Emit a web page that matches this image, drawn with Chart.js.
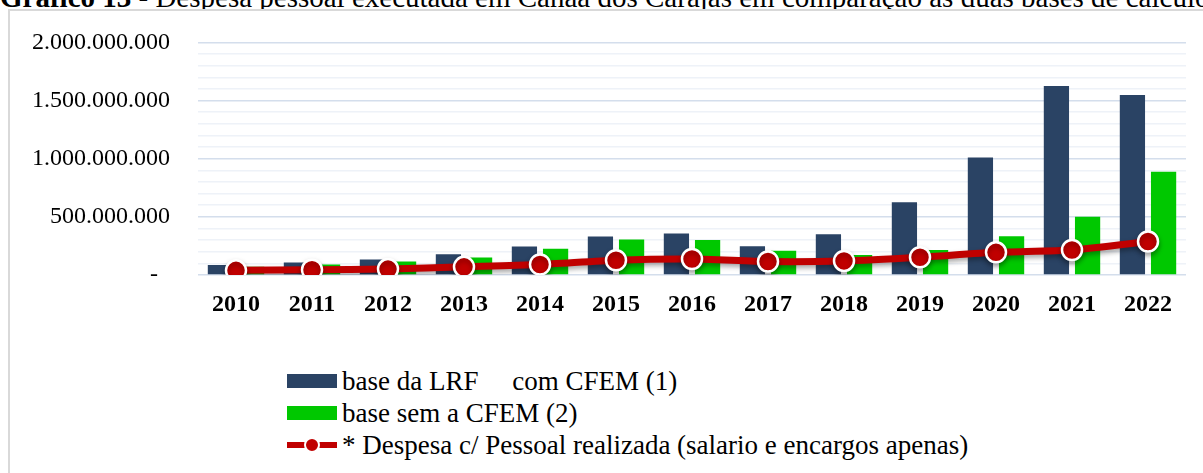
<!DOCTYPE html>
<html>
<head>
<meta charset="utf-8">
<script src="https://cdn.jsdelivr.net/npm/chart.js@4.4.1/dist/chart.umd.min.js"></script>
<style>
  html, body { margin: 0; padding: 0; background: #fff; }
  body { width: 1203px; height: 473px; overflow: hidden; position: relative; font-family: 'Liberation Serif', 'Times New Roman', serif; }
  .titulo { position: absolute; left: 0; top: -18px; font-size: 29px; line-height: 30px; white-space: nowrap; color: #000; }
  .caixa { position: absolute; left: 8px; top: 9px; width: 1300px; height: 600px; border: 2px solid #d9d9d9; background: #fff; }
  .grafico { position: absolute; left: 0; top: 0; width: 1203px; height: 330px; }
  #legenda { position: absolute; left: 287px; top: 365px; font-size: 27px; color: #000; }
  #legenda .item { height: 32px; display: flex; align-items: center; white-space: pre; }
  #legenda .cx { width: 50px; height: 14px; margin-right: 5px; }
  #legenda .ln { width: 50px; height: 6px; margin-right: 5px; position: relative; }
  #legenda .ln span { position: absolute; left: 17px; top: -5px; width: 12px; height: 12px; border-radius: 50%; border: 2px solid #fff; box-sizing: content-box; }
</style>
</head>
<body>
<div class="titulo"><b>Gráfico 13</b> - Despesa pessoal executada em Canaã dos Carajás em comparação às duas bases de cálculo</div>
<div class="caixa"></div>
<div class="grafico"><canvas id="myChart"></canvas></div>
<div id="legenda"></div>
<script>
/* global Chart */
const anos = ['2010', '2011', '2012', '2013', '2014', '2015', '2016', '2017', '2018', '2019', '2020', '2021', '2022'];
// base da LRF com CFEM (1)
const baseComCfem = [85000000, 108000000, 133000000, 178000000, 246000000, 330000000, 356000000, 248000000, 350000000, 625000000, 1011000000, 1625000000, 1548000000];
// base sem a CFEM (2)
const baseSemCfem = [70000000, 91000000, 116000000, 150000000, 226000000, 305000000, 302000000, 209000000, 172000000, 215000000, 333000000, 500000000, 887000000];
// despesa c/ pessoal realizada
const despesaPessoal = [40000000, 45000000, 51000000, 70000000, 90000000, 127000000, 138000000, 116000000, 121000000, 153000000, 195000000, 215000000, 288000000];
const yMax = 2000000000;
const yPasso = 100000000;
const yRotulo = 500000000;

const fonte = "'Liberation Serif', 'Times New Roman', serif";

function formata(v) {
    if (v === 0) return '-  ';
    return String(v).replace(/\B(?=(\d{3})+(?!\d))/g, '.');
}

// sombra nos pontos da linha
const sombra = {
    id: 'sombra',
    beforeDatasetDraw(chart, args) {
        if (chart.data.datasets[args.index].type !== 'line') return;
        const c = chart.ctx;
        c.save();
        c.shadowColor = 'rgba(0,0,0,0.35)';
        c.shadowBlur = 5;
        c.shadowOffsetY = 3;
    },
    afterDatasetDraw(chart, args) {
        if (chart.data.datasets[args.index].type !== 'line') return;
        chart.ctx.restore();
    }
};

var ctx = document.getElementById('myChart').getContext('2d');
var chart = new Chart(ctx, {
    type: 'bar',
    data: {
        labels: anos,
        datasets: [{
                label: 'base da LRF     com CFEM (1)',
                data: baseComCfem,
                backgroundColor: '#2a4364',
                order: 2,
                categoryPercentage: 0.82,
                barPercentage: 0.81,
            },
            {
                label: 'base sem a CFEM (2)',
                data: baseSemCfem,
                backgroundColor: '#00c800',
                order: 3,
                categoryPercentage: 0.82,
                barPercentage: 0.81,
            },
            {
                type: 'line',
                label: '* Despesa c/ Pessoal realizada (salario e encargos apenas)',
                data: despesaPessoal,
                borderColor: '#c00000',
                backgroundColor: '#c00000',
                borderWidth: 7,
                tension: 0.2,
                pointRadius: 10,
                pointBackgroundColor: '#c00000',
                pointBorderColor: '#ffffff',
                pointBorderWidth: 2.5,
                order: 1,
            }
        ]
    },
    options: {
        responsive: true,
        maintainAspectRatio: false,
        animation: false,
        layout: { padding: { left: 0, right: 17, top: 31.6, bottom: 0 } },
        plugins: {
            legend: { display: false },
            tooltip: { enabled: false }
        },
        scales: {
            x: {
                grid: { display: false, drawTicks: false },
                border: { display: false },
                ticks: {
                    color: '#000',
                    padding: 15,
                    font: { family: fonte, size: 24, weight: 'bold' }
                },
                afterFit: function(s) { s.height = 55; }
            },
            y: {
                min: 0,
                max: yMax,
                border: { display: false },
                grid: {
                    drawTicks: false,
                    lineWidth: 1.5,
                    color: function(c) {
                        return c.tick && c.tick.value % yRotulo === 0 ? '#d4deec' : '#eef2f8';
                    }
                },
                ticks: {
                    stepSize: yPasso,
                    autoSkip: false,
                    color: '#000',
                    padding: 28,
                    font: { family: fonte, size: 24 },
                    callback: function(v) {
                        return v % yRotulo === 0 ? formata(v) : '';
                    }
                },
                afterFit: function(s) { s.width = 198; }
            }
        }
    },
    plugins: [sombra]
});

// legenda vertical em html
const legenda = document.getElementById('legenda');
chart.data.datasets.forEach(function(ds) {
    const item = document.createElement('div');
    item.className = 'item';
    const marca = document.createElement('div');
    if (ds.type === 'line') {
        marca.className = 'ln';
        marca.style.background = ds.borderColor;
        const ponto = document.createElement('span');
        ponto.style.background = ds.pointBackgroundColor;
        marca.appendChild(ponto);
    } else {
        marca.className = 'cx';
        marca.style.background = ds.backgroundColor;
    }
    item.appendChild(marca);
    item.appendChild(document.createTextNode(ds.label));
    legenda.appendChild(item);
});
</script>
</body>
</html>
